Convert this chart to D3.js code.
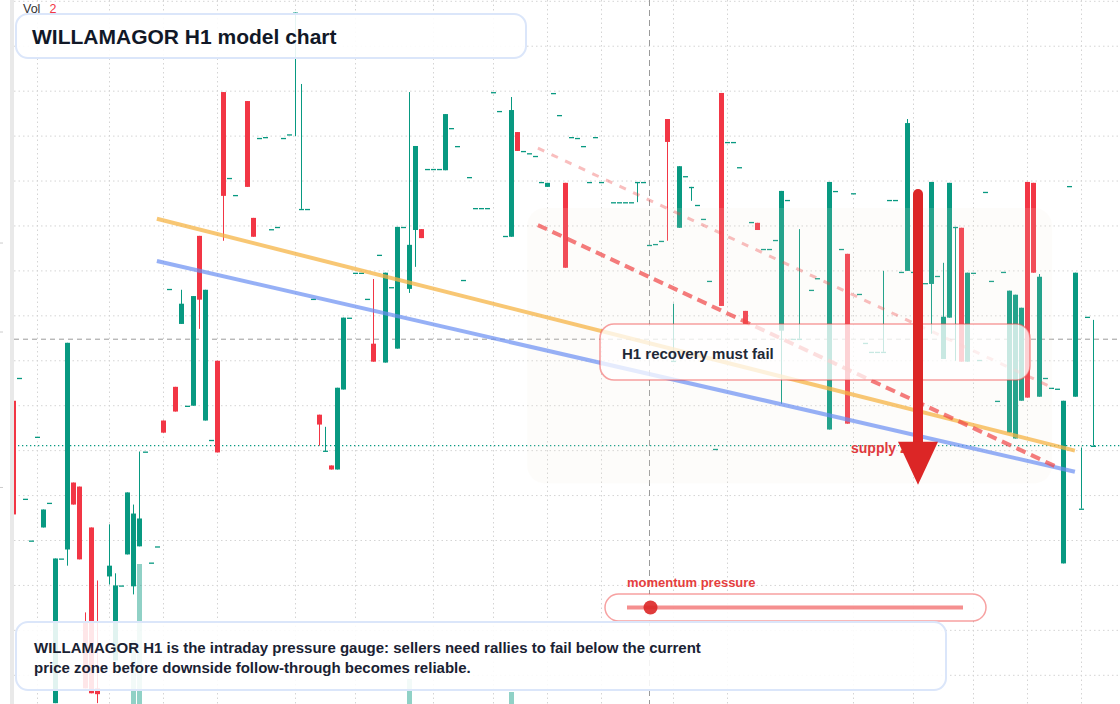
<!DOCTYPE html>
<html>
<head>
<meta charset="utf-8">
<script src="https://cdn.jsdelivr.net/npm/d3@7"></script>
<style>
  body { margin: 0; background: #fff; }
  svg { display: block; font-family: "Liberation Sans", Arial, sans-serif; }
</style>
</head>
<body>
<svg id="chart"></svg>
<script>
'use strict';

// bar slots on the hourly time axis (gaps = no print)
var barIndex = [
  2, 3, 4, 5, 6, 7, 8, 9, 10, 11,
  12, 13, 14, 15, 16, 18, 19, 20, 21, 22,
  23, 24, 25, 26, 27, 28, 29, 30, 31, 32,
  33, 34, 35, 36, 37, 38, 39, 41, 42, 43,
  44, 45, 46, 47, 48, 49, 50, 51, 52, 53,
  54, 55, 56, 57, 58, 59, 60, 61, 62, 63,
  64, 65, 66, 67, 68, 69, 70, 71, 72, 73,
  74, 75, 76, 77, 78, 79, 80, 81, 82, 83,
  84, 85, 86, 87, 88, 89, 90, 91, 92, 93,
  94, 95, 96, 97, 98, 99, 100, 102, 103, 104,
  105, 106, 107, 108, 109, 110, 111, 112, 113, 114,
  115, 116, 117, 118, 119, 120, 121, 122, 123, 124,
  125, 126, 127, 128, 129, 130, 131, 132, 133, 135,
  136, 138, 139, 140, 141, 142, 143, 144, 145, 146,
  147, 148, 149, 150, 151, 152, 154, 155, 156, 157,
  158, 159, 160, 161, 162, 163, 164, 165, 166, 167,
  168, 169, 170, 171, 172, 173, 174, 175, 176, 177,
  178, 179, 180, 181, 182
];

var opens = [
  161.1, 166.2, 139.3, 130.0, 153.1, 132.9, 138.4, 93.8, 126.0, 128.0,
  142.9, 142.0, 112.0, 132.9, 97.1, 122.0, 103.3, 120.0, 126.9, 119.8,
  128.7, 149.8, 125.1, 128.7, 156.7, 186.0, 164.2, 178.2, 160.0, 160.0,
  197.8, 156.7, 152.4, 170.0, 229.8, 210.7, 206.9, 227.8, 201.8, 219.6,
  219.8, 199.3, 199.8, 219.6, 220.4, 247.3, 203.8, 203.8, 183.8, 158.0,
  149.8, 146.7, 145.8, 163.6, 179.6, 189.6, 189.6, 183.8, 173.8, 193.6,
  169.6, 186.4, 172.7, 199.8, 186.0, 199.1, 199.3, 212.7, 212.7, 212.7,
  212.4, 221.8, 217.8, 188.0, 210.9, 204.0, 204.0, 204.0, 229.8, 225.6,
  197.8, 197.6, 220.9, 216.7, 216.2, 215.6, 209.8, 208.7, 229.6, 224.7,
  209.6, 219.8, 219.6, 217.8, 209.8, 219.8, 209.8, 205.3, 205.3, 205.3,
  205.3, 209.8, 209.8, 195.8, 196.0, 196.7, 223.8, 170.0, 199.6, 211.1,
  208.7, 204.7, 201.6, 187.8, 150.4, 229.6, 218.7, 218.7, 213.1, 181.1,
  200.9, 200.7, 194.9, 194.9, 196.9, 176.7, 205.8, 174.9, 174.9, 185.8,
  188.4, 154.7, 207.8, 194.9, 193.8, 207.3, 184.9, 174.0, 172.0, 172.0,
  172.0, 205.8, 205.8, 189.8, 190.0, 189.8, 187.3, 187.1, 188.9, 170.4,
  179.6, 199.8, 199.6, 169.8, 189.6, 170.2, 207.6, 187.8, 161.1, 189.8,
  154.0, 152.7, 161.1, 209.8, 209.6, 162.0, 166.2, 164.0, 163.8, 124.9,
  208.9, 162.0, 137.1, 179.8, 151.1
];

var highs = [
  161.1, 166.2, 139.3, 130.0, 153.1, 136.9, 138.4, 126.0, 126.0, 174.0,
  142.9, 142.0, 114.0, 132.9, 121.1, 133.6, 122.7, 120.0, 140.7, 138.0,
  149.8, 149.8, 125.1, 128.7, 156.7, 186.0, 164.2, 185.8, 160.0, 184.4,
  197.8, 185.8, 152.4, 170.0, 229.8, 210.7, 206.9, 227.8, 201.8, 219.6,
  219.8, 199.3, 199.8, 219.6, 220.4, 247.5, 231.6, 203.8, 183.8, 158.0,
  155.3, 146.7, 164.0, 179.6, 179.6, 189.6, 189.6, 183.8, 188.2, 193.6,
  189.6, 186.4, 199.8, 199.8, 229.8, 217.8, 199.3, 212.7, 212.7, 212.7,
  224.9, 221.8, 217.8, 188.0, 210.9, 204.0, 204.0, 204.0, 229.8, 225.6,
  197.8, 228.7, 220.9, 216.7, 216.2, 215.6, 209.8, 209.6, 229.6, 224.7,
  209.6, 219.8, 219.6, 217.8, 209.8, 219.8, 209.8, 205.3, 205.3, 205.3,
  205.3, 209.8, 209.8, 195.8, 196.0, 196.7, 223.8, 182.7, 213.3, 211.1,
  208.7, 204.7, 201.6, 187.8, 150.4, 229.6, 218.7, 218.7, 213.1, 181.1,
  200.9, 200.7, 194.9, 194.9, 196.9, 207.8, 205.8, 174.9, 199.3, 185.8,
  188.4, 209.8, 207.8, 194.9, 193.8, 207.3, 184.9, 174.0, 172.0, 172.0,
  190.0, 205.8, 205.8, 189.8, 223.8, 189.8, 187.3, 209.8, 188.9, 191.8,
  209.6, 199.8, 199.6, 189.6, 189.6, 170.2, 207.6, 187.8, 161.1, 189.8,
  185.6, 184.7, 181.8, 209.8, 209.6, 189.3, 166.2, 164.0, 163.8, 161.1,
  208.9, 189.6, 150.7, 179.8, 179.1
];

var lows = [
  135.8, 166.2, 139.3, 130.0, 153.1, 132.9, 138.4, 93.8, 126.0, 124.4,
  138.0, 125.8, 97.1, 96.0, 93.8, 120.2, 103.3, 120.0, 126.9, 118.0,
  128.7, 149.8, 125.1, 128.7, 154.0, 186.0, 158.7, 178.2, 160.0, 160.0,
  177.1, 156.7, 152.4, 149.6, 196.7, 210.7, 206.9, 208.7, 197.6, 219.6,
  219.8, 199.3, 199.8, 219.6, 220.4, 220.0, 203.8, 203.8, 183.8, 151.1,
  149.8, 145.8, 145.8, 163.6, 179.6, 189.6, 189.6, 183.8, 169.8, 193.6,
  169.6, 186.4, 172.7, 199.8, 185.1, 190.9, 197.3, 212.7, 212.7, 212.7,
  212.4, 221.8, 217.8, 188.0, 210.9, 204.0, 204.0, 204.0, 229.8, 225.6,
  197.8, 197.6, 216.7, 216.7, 216.2, 215.6, 209.8, 208.7, 229.6, 224.7,
  190.7, 219.8, 219.6, 217.8, 209.8, 219.8, 209.8, 205.3, 205.3, 205.3,
  205.3, 205.3, 209.8, 195.8, 196.0, 196.7, 196.7, 170.0, 199.6, 211.1,
  205.6, 204.7, 201.6, 187.8, 150.4, 182.2, 218.7, 218.7, 213.1, 178.2,
  200.9, 199.1, 194.9, 194.9, 196.9, 160.4, 205.8, 174.9, 174.9, 185.8,
  188.4, 154.7, 207.8, 194.9, 156.0, 207.3, 184.9, 174.0, 172.0, 172.0,
  172.0, 205.8, 205.8, 189.8, 190.0, 189.8, 187.3, 176.0, 188.9, 170.4,
  179.6, 170.0, 169.8, 169.8, 189.6, 170.2, 207.6, 187.8, 161.1, 189.8,
  154.0, 152.7, 161.1, 161.8, 189.6, 162.0, 166.2, 164.0, 163.8, 124.9,
  208.9, 162.0, 137.1, 179.8, 151.1
];

var closes = [
  135.8, 166.2, 139.3, 130.0, 153.1, 136.9, 138.4, 126.0, 126.0, 174.0,
  138.0, 125.8, 97.1, 96.0, 95.8, 124.4, 120.0, 120.0, 140.7, 136.0,
  134.9, 149.8, 125.1, 128.7, 154.0, 186.0, 158.7, 182.7, 160.0, 184.4,
  183.6, 185.8, 152.4, 149.6, 206.7, 210.7, 206.9, 208.7, 197.6, 219.6,
  219.8, 199.3, 199.8, 219.6, 220.4, 247.5, 203.8, 203.8, 183.8, 155.8,
  150.0, 145.8, 164.0, 179.6, 179.6, 189.6, 189.6, 183.8, 169.8, 193.6,
  189.6, 186.4, 199.8, 199.8, 195.8, 217.8, 197.3, 212.7, 212.7, 212.7,
  224.9, 221.8, 217.8, 188.0, 210.9, 204.0, 204.0, 204.0, 229.8, 225.6,
  197.8, 225.8, 216.7, 216.7, 216.2, 215.6, 209.8, 209.6, 229.6, 224.7,
  190.7, 219.8, 219.6, 217.8, 209.8, 219.8, 209.8, 205.3, 205.3, 205.3,
  205.3, 209.8, 209.8, 195.8, 196.0, 196.7, 218.7, 170.0, 213.3, 211.1,
  208.7, 204.7, 201.6, 187.8, 150.4, 182.2, 218.7, 218.7, 213.1, 178.2,
  200.9, 199.1, 194.9, 194.9, 196.9, 207.8, 205.8, 174.9, 174.9, 185.8,
  188.4, 209.8, 207.8, 194.9, 156.0, 207.3, 184.9, 174.0, 172.0, 172.0,
  172.0, 205.8, 205.8, 189.8, 222.9, 189.8, 187.3, 209.8, 188.9, 179.8,
  209.6, 199.8, 169.8, 189.6, 189.6, 170.2, 207.6, 187.8, 161.1, 189.8,
  185.6, 184.7, 181.8, 161.8, 189.6, 188.7, 166.2, 164.0, 163.8, 161.1,
  208.9, 189.6, 137.1, 179.8, 151.1
];

// volume pane (only bars that print above the floor)
var volIndex = [22, 23, 68, 85];
var volValue = [640, 1400, 250, 120];

// time axis session ticks (bar slots) and price grid
var timeTicks = [6, 18, 27, 36, 49, 59, 72, 82, 91, 100, 112, 121, 142, 152, 162, 171, 180];
var priceTicks = d3.range(100, 251, 10);
var axisMarks = [196.2, 176.4, 141.8];

// drawings: [startSlot, startPrice, endSlot, endPrice]
var resistanceLine = [25.9, 201.6, 178.9, 150.0];
var supportLine = [25.9, 192.2, 178.9, 145.3];
var lowerHighs = [89.4, 200.2, 175.5, 146.6];
var upperHighs = [89.4, 217.3, 175.2, 164.0];
var supplyZone = [87.6, 204.0, 175.1, 142.7];
var arrowPath = [152.75, 207.1, 152.0, 142.4];
var crosshair = [108, 174.8];
var momentum = 0.07;

var W = 1120, H = 704;
var UP = '#089981', DOWN = '#f23645';

var svg = d3.select('#chart').attr('width', W).attr('height', H);

var x = d3.scaleLinear().domain([0, 183]).range([1.5, 1099.5]);
var y = d3.scaleLinear().domain([100, 250]).range([675.3, 1.3]);
var vol = d3.scaleLinear().domain([0, 1400]).range([0, 140]);

svg.append('defs').append('clipPath').attr('id', 'plot')
  .append('rect').attr('x', 10).attr('y', 0).attr('width', W - 10).attr('height', H);

var plot = svg.append('g').attr('clip-path', 'url(#plot)');

/*
grid
*/
plot.append('g').selectAll('line').data(priceTicks).enter().append('line')
  .attr('x1', 14).attr('x2', W)
  .attr('y1', function(d) { return y(d); })
  .attr('y2', function(d) { return y(d); })
  .style('stroke', '#d4d4d4')
  .style('stroke-dasharray', '1.5,3');

plot.append('g').selectAll('line').data(timeTicks).enter().append('line')
  .attr('x1', function(d) { return x(d); })
  .attr('x2', function(d) { return x(d); })
  .attr('y1', 0).attr('y2', H)
  .style('stroke', '#d4d4d4')
  .style('stroke-dasharray', '1.5,3');

// crosshair
plot.append('line')
  .attr('x1', x(crosshair[0])).attr('x2', x(crosshair[0]))
  .attr('y1', 0).attr('y2', H)
  .style('stroke', '#9a9a9a')
  .style('stroke-dasharray', '6,4');
plot.append('line')
  .attr('x1', 14).attr('x2', W)
  .attr('y1', y(crosshair[1])).attr('y2', y(crosshair[1]))
  .style('stroke', '#9a9a9a')
  .style('stroke-dasharray', '5,4');

// last price
var lastClose = closes[closes.length - 1];
plot.append('line')
  .attr('x1', 14).attr('x2', W)
  .attr('y1', y(lastClose)).attr('y2', y(lastClose))
  .style('stroke', UP)
  .style('stroke-width', 1.3)
  .style('stroke-dasharray', '1.3,2.7');

/*
volume
*/
var volColor = function(i) {
  var j = barIndex.indexOf(volIndex[i]);
  return closes[j] >= opens[j] ? UP : DOWN;
};
plot.append('g').selectAll('rect').data(volIndex).enter().append('rect')
  .attr('x', function(d) { return x(d) - 2.5; })
  .attr('width', 5)
  .attr('y', function(d, i) { return H - vol(volValue[i]); })
  .attr('height', function(d, i) { return vol(volValue[i]); })
  .style('fill', function(d, i) { return volColor(i); })
  .style('opacity', 0.45);

/*
candles
*/
var candles = plot.append('g').selectAll('g').data(barIndex).enter().append('g');

candles.append('line')
  .attr('x1', function(d) { return x(d); })
  .attr('x2', function(d) { return x(d); })
  .attr('y1', function(d, i) { return y(highs[i]); })
  .attr('y2', function(d, i) { return y(lows[i]); })
  .style('stroke', function(d, i) { return closes[i] >= opens[i] ? UP : DOWN; })
  .style('stroke-width', 1);

candles.append('rect')
  .attr('x', function(d) { return x(d) - 2.5; })
  .attr('width', 5)
  .attr('y', function(d, i) { return y(Math.max(opens[i], closes[i])); })
  .attr('height', function(d, i) { return Math.max(1.3, Math.abs(y(opens[i]) - y(closes[i]))); })
  .style('fill', function(d, i) { return closes[i] >= opens[i] ? UP : DOWN; });

/*
supply zone
*/
plot.append('rect')
  .attr('x', x(supplyZone[0]))
  .attr('y', y(supplyZone[1]))
  .attr('width', x(supplyZone[2]) - x(supplyZone[0]))
  .attr('height', y(supplyZone[3]) - y(supplyZone[1]))
  .attr('rx', 18)
  .style('fill', '#f2e6da')
  .style('opacity', 0.13);

/*
trend lines
*/
var seg = function(s, color, width, opacity, dash) {
  var l = plot.append('line')
    .attr('x1', x(s[0])).attr('y1', y(s[1]))
    .attr('x2', x(s[2])).attr('y2', y(s[3]))
    .style('stroke', color)
    .style('stroke-width', width)
    .style('stroke-opacity', opacity);
  if (dash) {
    l.style('stroke-dasharray', dash);
  }
};
seg(resistanceLine, '#f6b445', 4, 0.75);
seg(supportLine, '#6a8ef2', 4, 0.7);
seg(upperHighs, '#ef4444', 3, 0.35, '7,8');
seg(lowerHighs, '#ef4444', 4, 0.7, '10,6');

// left price scale edge
svg.append('rect').attr('x', 10).attr('y', 0).attr('width', 4).attr('height', H)
  .style('fill', '#e9e9e9');
svg.append('g').selectAll('line').data(axisMarks).enter().append('line')
  .attr('x1', 0).attr('x2', 3)
  .attr('y1', function(d) { return y(d); })
  .attr('y2', function(d) { return y(d); })
  .style('stroke', '#cccccc');

/*
annotation
*/
svg.append('rect')
  .attr('x', 600).attr('y', 324).attr('width', 430).attr('height', 56).attr('rx', 14)
  .style('fill', '#ffffff').style('fill-opacity', 0.75)
  .style('stroke', '#ef4444').style('stroke-opacity', 0.5).style('stroke-width', 1.6);
svg.append('text')
  .attr('x', 622).attr('y', 359)
  .style('font-size', '15px').style('font-weight', 'bold').style('fill', '#1f2937')
  .text('H1 recovery must fail');

svg.append('text')
  .attr('x', 851).attr('y', 453)
  .style('font-size', '14px').style('font-weight', 'bold').style('fill', '#e03a3e')
  .text('supply zone');

// arrow
var ax = x(arrowPath[0]);
svg.append('line')
  .attr('x1', ax).attr('x2', ax)
  .attr('y1', y(arrowPath[1])).attr('y2', y(arrowPath[2]) + 4)
  .style('stroke', '#dc2626')
  .style('stroke-width', 10)
  .style('stroke-linecap', 'round');
svg.append('path')
  .attr('d', 'M' + (ax - 20) + ',' + y(arrowPath[2]) + 'L' + (ax + 20) + ',' + y(arrowPath[2]) +
    'L' + ax + ',' + y(arrowPath[3]) + 'Z')
  .style('fill', '#dc2626');

/*
momentum slider
*/
var m = d3.scaleLinear().domain([0, 1]).range([627, 963]);
svg.append('text')
  .attr('x', 627).attr('y', 587)
  .style('font-size', '13px').style('font-weight', 'bold').style('fill', '#e53e3e')
  .text('momentum pressure');
svg.append('rect')
  .attr('x', 605).attr('y', 594).attr('width', 381).attr('height', 27).attr('rx', 13.5)
  .style('fill', '#ffffff').style('fill-opacity', 0.9)
  .style('stroke', '#ef4444').style('stroke-opacity', 0.5).style('stroke-width', 1.5);
svg.append('line')
  .attr('x1', m(0)).attr('x2', m(1)).attr('y1', 607.5).attr('y2', 607.5)
  .style('stroke', '#ef4444').style('stroke-opacity', 0.6).style('stroke-width', 4);
svg.append('circle')
  .attr('cx', m(momentum)).attr('cy', 607.5).attr('r', 7)
  .style('fill', '#dc2626').style('opacity', 0.9);

/*
title and notes
*/
svg.append('text').attr('x', 23).attr('y', 12.5)
  .style('font-size', '12.5px').style('fill', '#333333').text('Vol');
svg.append('text').attr('x', 49.5).attr('y', 12.5)
  .style('font-size', '12.5px').style('fill', DOWN).text('2');

svg.append('rect')
  .attr('x', 16).attr('y', 14).attr('width', 510).attr('height', 44).attr('rx', 12)
  .style('fill', '#ffffff').style('fill-opacity', 0.9)
  .style('stroke', '#dbe6fa').style('stroke-width', 2);
svg.append('text')
  .attr('x', 32).attr('y', 43.5)
  .style('font-size', '21px').style('font-weight', 'bold').style('fill', '#111827')
  .text('WILLAMAGOR H1 model chart');

svg.append('rect')
  .attr('x', 16).attr('y', 622).attr('width', 930).attr('height', 68).attr('rx', 12)
  .style('fill', '#ffffff').style('fill-opacity', 0.88)
  .style('stroke', '#dbe6fa').style('stroke-width', 2);
var note = svg.append('text')
  .style('font-size', '15px').style('font-weight', 'bold').style('fill', '#1a2233');
note.append('tspan').attr('x', 34).attr('y', 653)
  .text('WILLAMAGOR H1 is the intraday pressure gauge: sellers need rallies to fail below the current');
note.append('tspan').attr('x', 34).attr('y', 673)
  .text('price zone before downside follow-through becomes reliable.');
</script>
</body>
</html>
